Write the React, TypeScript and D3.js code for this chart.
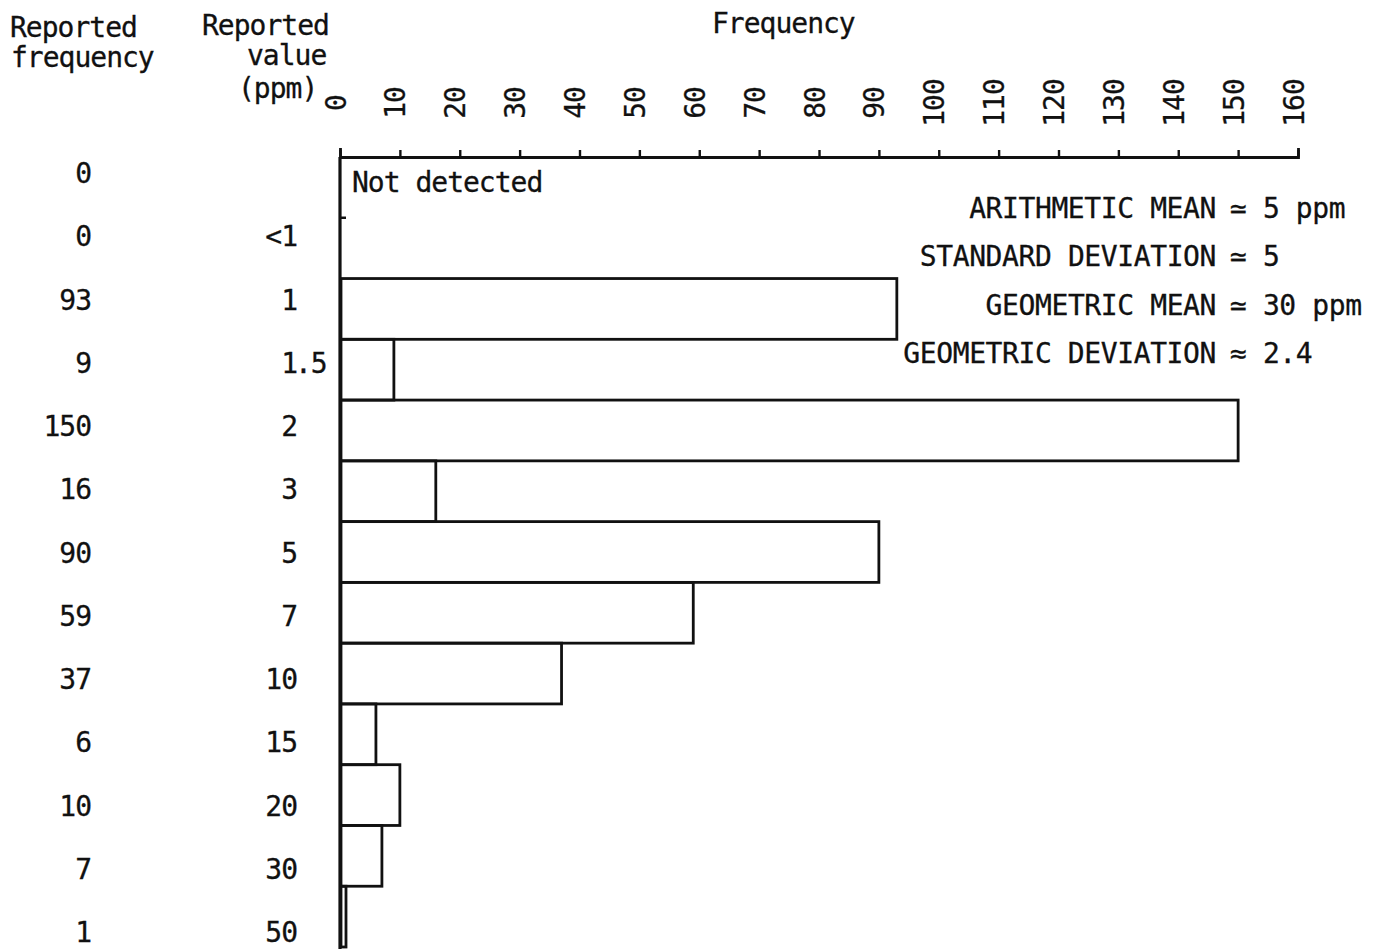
import React, { useRef, useEffect } from 'react';
import * as d3 from 'd3';

// rows, top to bottom
const categories = ['Not detected', '<1', '1', '1.5', '2', '3', '5', '7', '10', '15', '20', '30', '50'];
const frequencies = [0, 0, 93, 9, 150, 16, 90, 59, 37, 6, 10, 7, 1];
const valueLabels = ['', '<1', '1', '1.5', '2', '3', '5', '7', '10', '15', '20', '30', '50'];
const freqTicks = [0, 10, 20, 30, 40, 50, 60, 70, 80, 90, 100, 110, 120, 130, 140, 150, 160];

const statNames = ['ARITHMETIC MEAN', 'STANDARD DEVIATION', 'GEOMETRIC MEAN', 'GEOMETRIC DEVIATION'];
const statValues = ['≃ 5 ppm', '≃ 5', '≃ 30 ppm', '≈ 2.4'];

const FONT = '"DejaVu Sans Mono", "Liberation Mono", monospace';
const INK = '#111';

const App: React.FC = () => {
    const chartRef = useRef<SVGSVGElement | null>(null);

    useEffect(() => {
        if (!chartRef.current) return;
        const width = 1382;
        const height = 949;

        const svg = d3.select(chartRef.current)
            .attr('width', width)
            .attr('height', height);
        svg.selectAll('*').remove();

        svg.append('rect').attr('width', width).attr('height', height).attr('fill', '#fff');

        const x = d3.scaleLinear().domain([0, 160]).range([340, 1298]);
        const y = d3.scaleBand<string>().domain(categories).range([157, 947]).padding(0);
        // label rows sit a little off the bar bands in the original
        const yLabel = d3.scalePoint<string>().domain(categories).range([173, 932]);

        // typewriter look: tall glyphs, tight advance
        const g = svg.append('g')
            .style('font-family', FONT)
            .style('font-size', '28px')
            .style('letter-spacing', '-1px')
            .attr('fill', INK)
            .attr('stroke', INK)
            .attr('stroke-width', 0.3);

        // headers
        g.append('text').attr('x', 10).attr('y', 37).text('Reported');
        g.append('text').attr('x', 11).attr('y', 67).text('frequency');
        g.append('text').attr('x', 202).attr('y', 35).text('Reported');
        g.append('text').attr('x', 247).attr('y', 65).text('value');
        g.append('text').attr('x', 238).attr('y', 98).text('(ppm)');
        g.append('text').attr('x', 712).attr('y', 33).text('Frequency');

        // bars
        const rows = categories.map((c, i) => ({ cat: c, freq: frequencies[i], label: valueLabels[i] }));
        svg.append('g')
            .selectAll('rect')
            .data(rows.filter(d => d.freq > 0))
            .enter()
            .append('rect')
            .attr('x', x(0) + 1)
            .attr('y', d => y(d.cat) as number)
            .attr('width', d => x(d.freq) - x(0) - 1)
            .attr('height', y.bandwidth())
            .attr('fill', 'none')
            .attr('stroke', INK)
            .attr('stroke-width', 2.8);

        // top frequency axis
        const axis = d3.axisTop(x)
            .tickValues(freqTicks)
            .tickSize(7)
            .tickSizeOuter(9)
            .tickFormat(d => String(d));
        const axisG = svg.append('g')
            .attr('transform', `translate(0, ${y.range()[0]})`)
            .call(axis);
        axisG.select('.domain').attr('stroke', INK).attr('stroke-width', 2.8);
        axisG.selectAll('.tick line').attr('stroke', INK).attr('stroke-width', 2.4);
        axisG.selectAll('.tick text')
            .attr('fill', INK)
            .attr('stroke', INK)
            .attr('stroke-width', 0.3)
            .style('font-family', FONT)
            .style('font-size', '28px')
            .style('letter-spacing', '-1px')
            .attr('text-anchor', 'middle')
            .attr('x', 0)
            .attr('y', 5)
            .attr('dy', 0)
            .attr('transform', 'translate(0, -54) rotate(-90)');

        // vertical axis line
        svg.append('line')
            .attr('x1', x(0)).attr('x2', x(0))
            .attr('y1', y.range()[0]).attr('y2', height)
            .attr('stroke', INK).attr('stroke-width', 3.2);
        svg.append('line')
            .attr('x1', x(0)).attr('x2', x(0) + 6)
            .attr('y1', y('<1') as number).attr('y2', y('<1') as number)
            .attr('stroke', INK).attr('stroke-width', 2.5);

        // "Not detected" note in first row
        g.append('text')
            .attr('x', x(0) + 12)
            .attr('y', (y('Not detected') as number) + 35)
            .text('Not detected');

        // reported frequency column
        g.append('g')
            .selectAll('text')
            .data(rows)
            .enter()
            .append('text')
            .attr('x', 91)
            .attr('y', d => yLabel(d.cat) as number)
            .attr('dy', '0.36em')
            .attr('text-anchor', 'end')
            .text(d => d.freq);

        // reported value column, aligned on the decimal point
        const vals = g.append('g')
            .selectAll('g')
            .data(rows.filter(d => d.label !== ''))
            .enter()
            .append('g')
            .attr('transform', d => `translate(297, ${yLabel(d.cat)})`);
        vals.append('text')
            .attr('dy', '0.36em')
            .attr('text-anchor', 'end')
            .text(d => d.label.split('.')[0]);
        vals.filter(d => d.label.includes('.'))
            .append('text')
            .attr('dy', '0.36em')
            .attr('x', -2)
            .text(d => '.' + d.label.split('.')[1]);

        // summary statistics, aligned on the equals sign
        const yStat = d3.scalePoint<string>().domain(statNames).range([208, 353]);
        const stats = g.append('g')
            .style('letter-spacing', '-0.4px')
            .selectAll('g')
            .data(statNames.map((n, i) => ({ name: n, value: statValues[i] })))
            .enter()
            .append('g')
            .attr('transform', d => `translate(1216, ${yStat(d.name)})`);
        stats.append('text')
            .attr('dy', '0.36em')
            .attr('text-anchor', 'end')
            .text(d => d.name);
        stats.append('text')
            .attr('x', 14)
            .attr('dy', '0.36em')
            .text(d => d.value);
    }, []);

    return (
        <div style={{ position: 'absolute', left: 0, top: 0 }}>
            <svg ref={chartRef} style={{ display: 'block' }}></svg>
        </div>
    );
};

export default App;
